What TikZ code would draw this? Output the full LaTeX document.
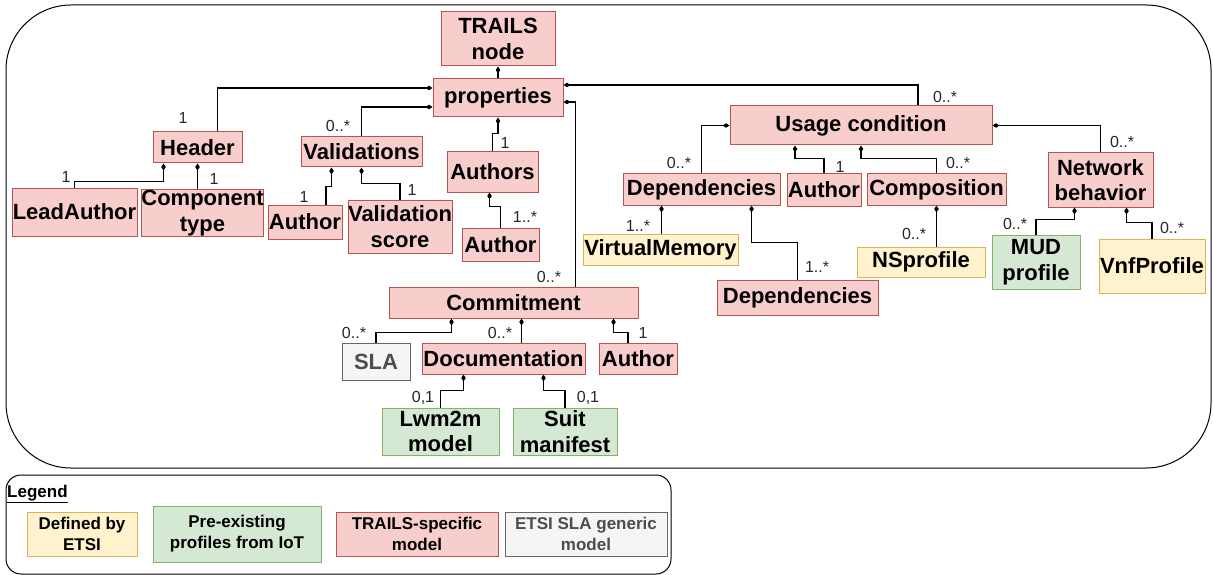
\documentclass[tikz,border=0pt]{standalone}
\usepackage{fontspec}
\setmainfont{Liberation Sans}
\usetikzlibrary{arrows.meta}
\definecolor{redfill}{HTML}{F8CECC}
\definecolor{redline}{HTML}{B85450}
\definecolor{yelfill}{HTML}{FFF2CC}
\definecolor{yelline}{HTML}{D6B656}
\definecolor{grnfill}{HTML}{D5E8D4}
\definecolor{grnline}{HTML}{82B366}
\definecolor{gryfill}{HTML}{F5F5F5}
\definecolor{gryline}{HTML}{666666}
\definecolor{grytext}{HTML}{4D4D4D}
\tikzset{
	box/.style={draw, line width=1pt, inner sep=0pt, align=center,
			font=\fontsize{22}{25.5}\selectfont\bfseries},
	sz/.style 2 args={minimum width=#1pt, minimum height=#2pt},
	trails/.style={box, fill=redfill, draw=redline},
	etsi/.style={box, fill=yelfill, draw=yelline},
	iot/.style={box, fill=grnfill, draw=grnline},
	slabox/.style={box, fill=gryfill, draw=gryline, text=grytext},
	legitem/.style={font=\fontsize{17}{21}\selectfont\bfseries},
	mult/.style={inner sep=0pt, text=black!85, font=\fontsize{16}{18}\selectfont},
	link/.style={line width=1.4pt, -{Diamond[length=7pt,width=4.5pt]}}
}
\begin{document}
\begin{tikzpicture}[x=1pt,y=-1pt]
	\useasboundingbox (0,0) rectangle (1213,575);
	\draw[line width=1pt, rounded corners=65pt] (6,5) rectangle (1211,468);
	\draw[line width=1pt, rounded corners=15pt] (6,475) rectangle (671,574);

	% core
	\node[trails, sz={114}{54}] (trails) at (498,39) {TRAILS\\node};
	\node[trails, sz={130}{38}] (props) at (498,98) {properties};
	\node[trails, sz={89}{31}] (header) at (197.5,147.5) {Header};
	\node[trails, sz={125}{48}] (lead) at (74.5,212) {LeadAuthor};
	\node[trails, sz={121}{47}] (comptype) at (202.5,213) {Component\\type};
	\node[trails, sz={121}{30}] (valid) at (361.5,152) {Validations};
	\node[trails, sz={74}{34}] (valauth) at (305,222) {Author};
	\node[trails, sz={104}{53}] (valscore) at (400,226.5) {Validation\\score};
	\node[trails, sz={91}{40}] (authors) at (492.5,172) {Authors};
	\node[trails, sz={77}{33}] (authauth) at (500.5,244.5) {Author};

	% usage condition
	\node[trails, sz={262}{39}] (usage) at (861,125.5) {Usage condition};
	\node[trails, sz={157}{31}] (dep) at (701.5,189.5) {Dependencies};
	\node[trails, sz={74}{32}] (usageauth) at (824,190) {Author};
	\node[trails, sz={139}{31}] (comp) at (936.5,189.5) {Composition};
	\node[trails, sz={105}{54}] (netbeh) at (1100.5,180) {Network\\behavior};
	\node[etsi, sz={155}{31}] (vm) at (660.5,249.5) {VirtualMemory};
	\node[trails, sz={161}{35}] (dep2) at (797.5,297.5) {Dependencies};
	\node[etsi, sz={128}{30}] (ns) at (921,262) {NSprofile};
	\node[iot, sz={88}{54}] (mud) at (1036,262) {MUD\\profile};
	\node[etsi, sz={106}{54}] (vnf) at (1152,266) {VnfProfile};

	% commitment
	\node[trails, sz={249}{31}] (commit) at (513.5,302.5) {Commitment};
	\node[slabox, sz={68}{37}] (sla) at (376,361.5) {SLA};
	\node[trails, sz={163}{31}] (doc) at (503.5,358.5) {Documentation};
	\node[trails, sz={78}{31}] (commauth) at (638,358.5) {Author};
	\node[iot, sz={117}{47}] (lwm) at (440.5,431.5) {Lwm2m\\model};
	\node[iot, sz={104}{47}] (suit) at (565,431.5) {Suit\\manifest};

	\draw[link] (props.north) -- (trails.south);
	\draw[link] ([xshift=20]header.north) |- ([yshift=10]props.west);
	\draw[link] (valid.north) |- ([yshift=-9]props.west);
	\draw[link] (authors.north) -- ++(0,-18) -| (props.south);
	\draw[link] ([xshift=57]usage.north) |- ([yshift=13]props.east);
	\draw[link] ([xshift=62]commit.north) |- ([yshift=-4]props.east);
	\draw[link] (lead.north) -- ++(0,-6) -| ([xshift=-34]header.south);
	\draw[link] (comptype.north -| header.south) -- (header.south);
	\draw[link] ([xshift=21]valauth.north) -- ++(0,-18) -| ([xshift=-30]valid.south);
	\draw[link] (valscore.north) -- ++(0,-16) -| (valid.south);
	\draw[link] (authauth.north) -- ++(0,-21) -| ([xshift=-3]authors.south);
	\draw[link] (dep.north) |- (usage.west);
	\draw[link] (usageauth.north) -- ++(0,-15) -| ([xshift=-66]usage.south);
	\draw[link] (comp.north) -- ++(0,-15) -| (usage.south);
	\draw[link] (netbeh.north) |- (usage.east);
	\draw[link] ([xshift=1]vm.north) -- ([xshift=1]vm.north |- dep.south);
	\draw[link] (dep2.north) -- ++(0,-37) -| ([xshift=50]dep.south);
	\draw[link] (ns.north -| comp.south) -- (comp.south);
	\draw[link] (mud.north) -- ++(0,-15) -| ([xshift=-26]netbeh.south);
	\draw[link] (vnf.north) -- ++(0,-16) -| ([xshift=26]netbeh.south);
	\draw[link] (sla.north) -- ++(0,-10) -| ([xshift=-62]commit.south);
	\draw[link] ([xshift=18]doc.north) -- ([xshift=18]doc.north |- commit.south);
	\draw[link] ([xshift=-10]commauth.north) -- ++(0,-10) -| ([xshift=100]commit.south);
	\draw[link] (lwm.north) -- ++(0,-17) -| ([xshift=-40]doc.south);
	\draw[link] (suit.north) -- ++(0,-17) -| ([xshift=40]doc.south);

	% multiplicities
	\node[mult] (mheader) at (183,118) {1};
	\node[mult] (mlead) at (66,177) {1};
	\node[mult] (mcomptype) at (214,179) {1};
	\node[mult] (mvalid) at (338,126) {0..*};
	\node[mult] (mvalauth) at (304,197) {1};
	\node[mult] (mvalscore) at (412,190) {1};
	\node[mult] (mauthors) at (505,143) {1};
	\node[mult] (mauthauth) at (525,217) {1..*};
	\node[mult] (mcommit) at (549,277) {0..*};
	\node[mult] (mdep) at (679,163) {0..*};
	\node[mult] (mvm) at (638,226) {1..*};
	\node[mult] (mdep2) at (817,267) {1..*};
	\node[mult] (musageauth) at (840,167) {1};
	\node[mult] (mcomp) at (958,163) {0..*};
	\node[mult] (musage) at (945,97) {0..*};
	\node[mult] (mnetbeh) at (1122,142) {0..*};
	\node[mult] (mns) at (914,234) {0..*};
	\node[mult] (mmud) at (1015,224) {0..*};
	\node[mult] (mvnf) at (1172,228) {0..*};
	\node[mult] (msla) at (354,333) {0..*};
	\node[mult] (mdoc) at (500,333) {0..*};
	\node[mult] (mcommauth) at (643,333) {1};
	\node[mult] (mlwm) at (423,398) {0,1};
	\node[mult] (msuit) at (588,398) {0,1};

	% legend
	\node[anchor=base west, inner sep=0pt, legitem] (legtitle) at (7,497) {\underline{Legend}};
	\node[etsi, legitem, sz={110}{44}] (legetsi) at (82,534) {Defined by\\ETSI};
	\node[iot, legitem, sz={168}{56}] (legiot) at (237,534) {Pre-existing\\profiles from IoT};
	\node[trails, legitem, sz={162}{44}] (legtrails) at (417,534) {TRAILS-specific\\model};
	\node[slabox, legitem, sz={162}{44}] (legsla) at (586,534) {ETSI SLA generic\\model};
\end{tikzpicture}
\end{document}
